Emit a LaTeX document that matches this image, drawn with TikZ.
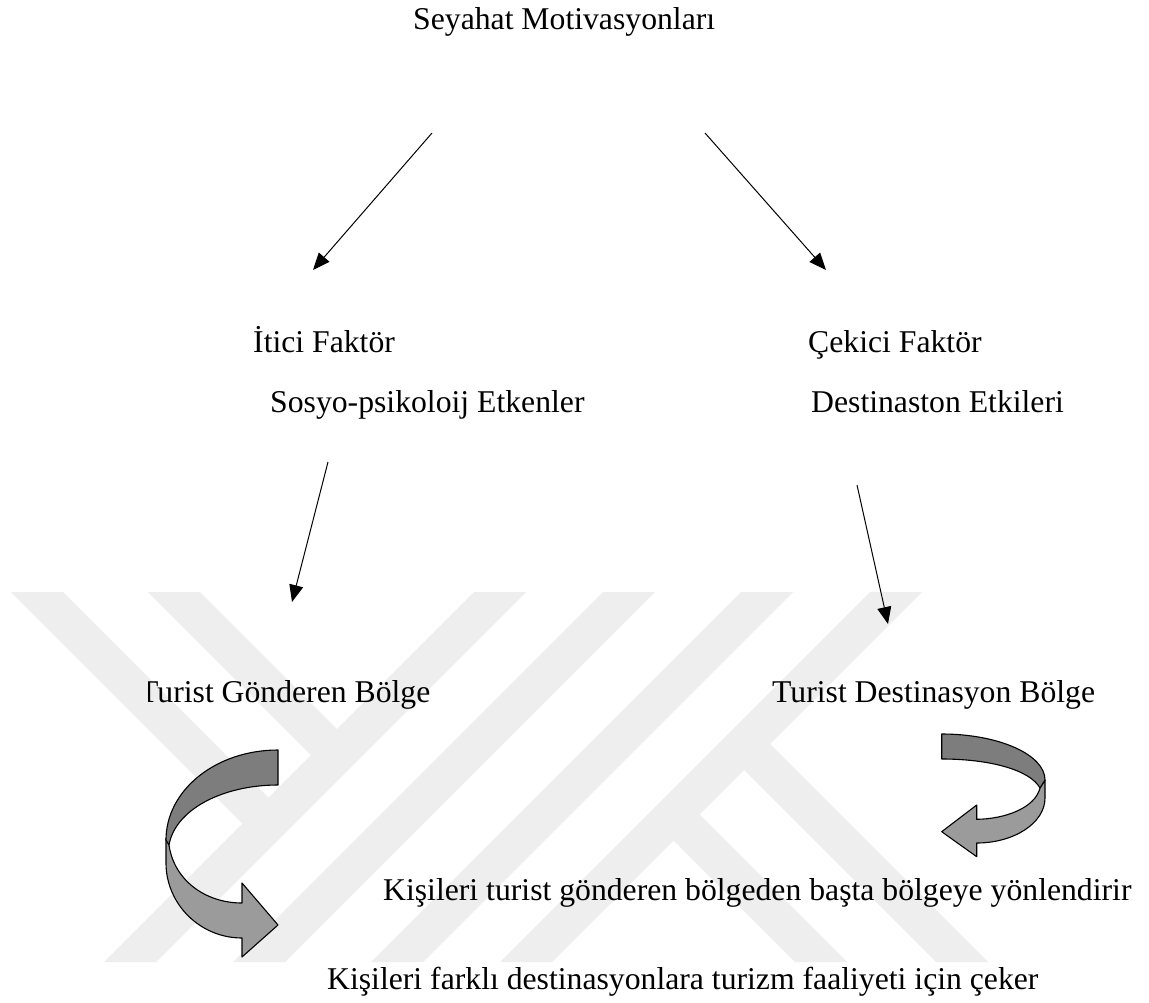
\documentclass[tikz,border=0pt]{standalone}
\usepackage{fontspec}
\setmainfont{Liberation Serif}
\usetikzlibrary{arrows.meta}
\definecolor{wm}{RGB}{238,238,238}
\definecolor{backface}{RGB}{125,125,125}
\definecolor{frontface}{RGB}{155,155,155}
\tikzset{
  lbl/.style={font=\fontsize{31.7}{38}\selectfont, inner sep=0pt, anchor=base west},
  conn/.style={line width=1pt, -{Triangle[length=17pt,width=14pt]}},
  blockarrow/.style={draw=black, line width=1.1pt, line join=round},
}
\begin{document}
\begin{tikzpicture}[x=1pt,y=-1pt]
\useasboundingbox (0,0) rectangle (1149,1003);
\fill[white] (0,0) rectangle (1149,1003);
% faint watermark
\fill[wm] (11,592) -- (63,592) -- (281.5,810.5) -- (255.5,836.5) -- cycle;
\fill[wm] (148,592) -- (200,592) -- (350,742) -- (324,768) -- cycle;
\fill[wm] (474,592) -- (526,592) -- (156,962) -- (104,962) -- cycle;
\fill[wm] (603,592) -- (655,592) -- (285,962) -- (233,962) -- cycle;
\fill[wm] (741,592) -- (793,592) -- (423,962) -- (371,962) -- cycle;
\fill[wm] (870,592) -- (922,592) -- (552,962) -- (500,962) -- cycle;
\fill[wm] (757,731) -- (988,962) -- (936,962) -- (731,757) -- cycle;
\fill[wm] (686.5,801.5) -- (847,962) -- (795,962) -- (660.5,827.5) -- cycle;

% texts
\node[lbl] (title) at (413,30) {Seyahat Motivasyonları};
\node[lbl] (itici) at (253,352) {İtici Faktör};
\node[lbl] (cekici) at (808,352) {Çekici Faktör};
\node[lbl] (sosyo) at (270,412) {Sosyo-psikoloij Etkenler};
\node[lbl] (dest) at (811,412) {Destinaston Etkileri};
\begin{scope}
  \clip (148,640) rectangle (700,740);
  \node[lbl] (gonderen) at (139,702) {Turist Gönderen Bölge};
\end{scope}
\node[lbl] (destbolge) at (772,702) {Turist Destinasyon Bölge};
\node[lbl] (line1) at (383,900) {Kişileri turist gönderen bölgeden başta bölgeye yönlendirir};
\node[lbl] (line2) at (327,989) {Kişileri farklı destinasyonlara turizm faaliyeti için çeker};

% connector end points
\coordinate (a1s) at (432,133); \coordinate (a1e) at (313,270);
\coordinate (a2s) at (705,133); \coordinate (a2e) at (826,270);
\coordinate (a3s) at (328,462); \coordinate (a3e) at (292,602);
\coordinate (a4s) at (857,485); \coordinate (a4e) at (888,624);
\draw[conn] (a1s) -- (a1e);
\draw[conn] (a2s) -- (a2e);
\draw[conn] (a3s) -- (a3e);
\draw[conn] (a4s) -- (a4e);

% left curved block arrow
\filldraw[blockarrow, fill=frontface] (166,838) -- (166,863) .. controls (166,904) and (200,938) .. (242,938)
  -- (242,957) -- (278,925) -- (242,883) -- (242,903)
  .. controls (205,903) and (174,880) .. (169,845) -- cycle;
\filldraw[blockarrow, fill=backface] (278,750) .. controls (216,750) and (166,790) .. (166,840)
  -- (169,845) .. controls (175,810) and (222,785) .. (278,785) -- cycle;

% right curved block arrow
\filldraw[blockarrow, fill=frontface] (1045,780) -- (1045,798) .. controls (1045,823) and (1014,843) .. (976.7,843)
  -- (976.7,856.7) -- (941.7,831.7) -- (976.7,805) -- (976.7,819.3)
  .. controls (1005,819) and (1035,808) .. (1040,788) -- cycle;
\filldraw[blockarrow, fill=backface] (941.7,734) .. controls (998.6,734) and (1045,754.6) .. (1045,780)
  -- (1040,788) .. controls (1030,770) and (990,759) .. (941.7,759) -- cycle;
\end{tikzpicture}
\end{document}
